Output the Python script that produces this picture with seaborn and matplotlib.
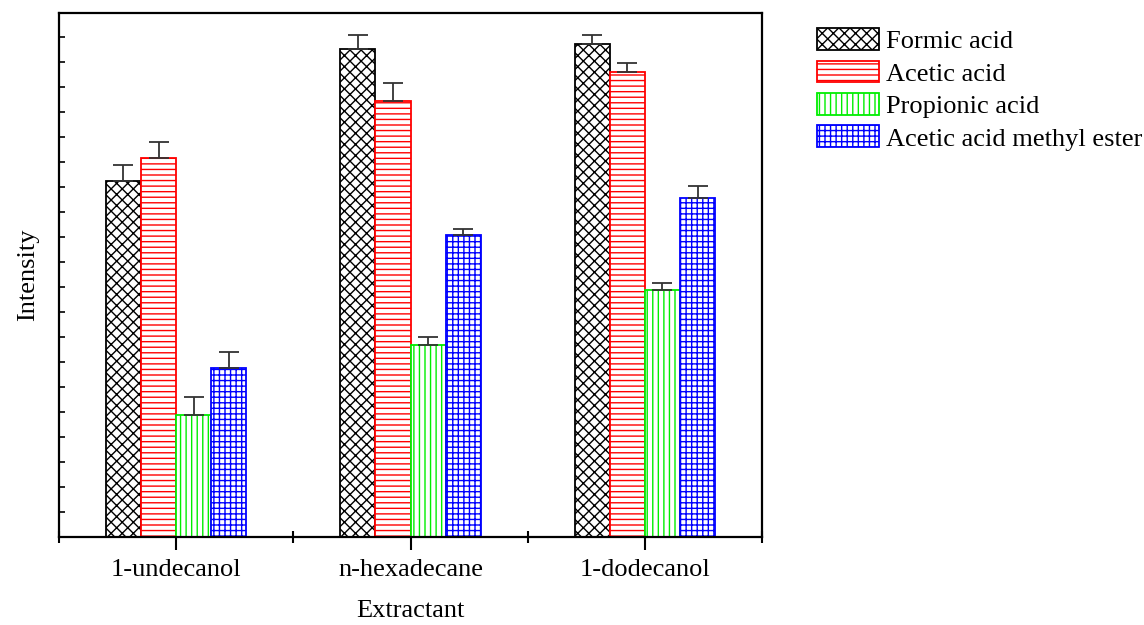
import numpy as np
import pandas as pd
import matplotlib
matplotlib.use("Agg")
import matplotlib.pyplot as plt
from matplotlib.patches import Patch
from matplotlib.ticker import MultipleLocator, FixedLocator, NullFormatter
import seaborn as sns

extractants = ["1-undecanol", "n-hexadecane", "1-dodecanol"]
acids = ["Formic acid", "Acetic acid", "Propionic acid", "Acetic acid methyl ester"]
formic = [14.24, 19.51, 19.71]
acetic = [15.15, 17.43, 18.61]
propionic = [4.87, 7.67, 9.85]
ester = [6.76, 12.05, 13.55]
formic_err = [0.64, 0.58, 0.37]
acetic_err = [0.63, 0.71, 0.36]
propionic_err = [0.72, 0.32, 0.28]
ester_err = [0.64, 0.27, 0.48]

values = [formic, acetic, propionic, ester]
errors = [formic_err, acetic_err, propionic_err, ester_err]
colors = ["#000000", "#ff0000", "#00ee00", "#0000ff"]
hatches = ["xxx", "---", "|||", "+++"]

rows = []
for a, vals in zip(acids, values):
    for e, v in zip(extractants, vals):
        rows.append({"Extractant": e, "Acid": a, "Intensity": v})
df = pd.DataFrame(rows)

sns.set_style("white")
plt.rcParams["font.family"] = ["Liberation Serif", "DejaVu Serif"]
plt.rcParams["hatch.linewidth"] = 1.0
plt.rcParams["text.color"] = "black"
plt.rcParams["axes.labelcolor"] = "black"
plt.rcParams["xtick.color"] = "black"
plt.rcParams["ytick.color"] = "black"

fig = plt.figure(figsize=(11.44, 6.25), dpi=100)
ax = fig.add_axes([0.0516, 0.1416, 0.6145, 0.8371])

sns.barplot(data=df, x="Extractant", y="Intensity", hue="Acid",
            order=extractants, hue_order=acids, errorbar=None,
            width=0.6, gap=0, ax=ax, legend=False)

bar_conts = list(ax.containers)
for i, cont in enumerate(bar_conts):
    for j, bar in enumerate(cont.patches):
        bar.set_facecolor("white")
        bar.set_edgecolor(colors[i])
        bar.set_hatch(hatches[i])
        bar.set_linewidth(1.3)
        x = bar.get_x() + bar.get_width() / 2
        ax.errorbar(x, bar.get_height(), yerr=[[0], [errors[i][j]]],
                    fmt="none", ecolor="#333333", elinewidth=1.3,
                    capsize=7, capthick=1.3, zorder=3)

ax.set_xlim(-0.5, 2.5)
ax.set_ylim(0, 20.94)
ax.yaxis.set_major_locator(MultipleLocator(1))
ax.yaxis.set_major_formatter(NullFormatter())
ax.tick_params(axis="y", which="major", direction="in", length=4, width=1.2,
               left=True, right=False, labelleft=False)
ax.xaxis.set_minor_locator(FixedLocator([-0.5, 0.5, 1.5, 2.5]))
ax.tick_params(axis="x", which="major", direction="out", length=9, width=1.5,
               bottom=True, labelsize=19, pad=7)
ax.tick_params(axis="x", which="minor", direction="inout", length=8, width=1.5,
               bottom=True)
for s in ax.spines.values():
    s.set_visible(True)
    s.set_color("black")
    s.set_linewidth(1.6)

ax.set_xlabel("Extractant", fontsize=19, labelpad=14)
ax.set_ylabel("Intensity", fontsize=19, labelpad=14)

handles = [Patch(facecolor="white", edgecolor=c, hatch=h, linewidth=1.3)
           for c, h in zip(colors, hatches)]
fig.legend(handles, acids, loc="upper left", bbox_to_anchor=(0.714, 0.955),
           frameon=False, fontsize=19, handlelength=2.35, handleheight=0.9,
           handletextpad=0.27, labelspacing=0.28, borderaxespad=0,
           borderpad=0)

fig.savefig("out.png", dpi=100)
